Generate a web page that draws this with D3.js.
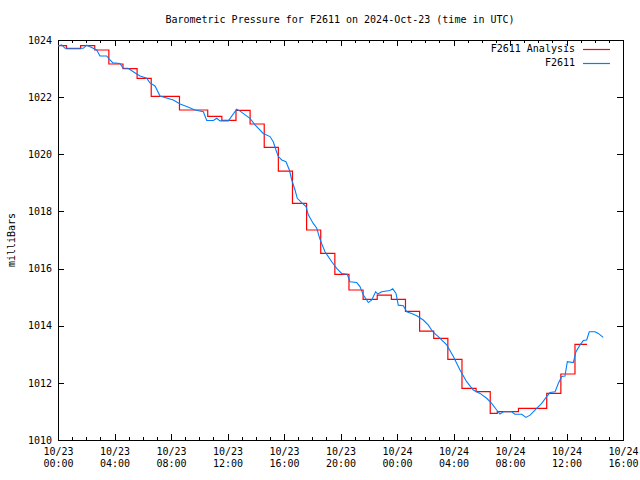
<!DOCTYPE html>
<html>
<head>
<meta charset="utf-8">
<script src="https://cdn.jsdelivr.net/npm/d3@7"></script>
<style>
  body { margin: 0; background: #fff; }
  svg text { font-family: "DejaVu Sans Mono", "Liberation Mono", monospace; font-size: 10px; fill: #000; }
</style>
</head>
<body>
<svg id="chart" width="640" height="480"></svg>
<script>
// hours after 2024-10-23 00:00 UTC
const analysisHours = [0, 0.6, 1.6, 2.6, 3.6, 4.6, 5.6, 6.6, 7.6, 8.6, 9.6, 10.6, 11.6, 12.6, 13.6, 14.6,
  15.6, 16.6, 17.6, 18.6, 19.6, 20.6, 21.6, 22.6, 23.6, 24.6, 25.6, 26.6, 27.6, 28.6, 29.6, 30.6,
  31.1, 32.6, 33.6, 34.6, 35.6, 36.6, 37.45];
const analysisValues = [1023.8, 1023.7, 1023.8, 1023.65, 1023.16, 1023.0, 1022.66, 1022.03, 1022.03,
  1021.55, 1021.55, 1021.33, 1021.19, 1021.54, 1021.06, 1020.24, 1019.41, 1018.28, 1017.35, 1016.53,
  1015.8, 1015.25, 1014.92, 1015.07, 1014.92, 1014.5, 1013.81, 1013.56, 1012.82, 1011.81, 1011.69,
  1010.93, 1010.99, 1011.11, 1011.11, 1011.63, 1012.31, 1013.35, 1013.35];

const stationHours = [0, 0.26, 0.5, 1.79, 2.03, 2.27, 2.74, 2.97, 3.45, 3.68, 3.89, 4.39, 4.6, 4.96,
  5.52, 5.81, 6.28, 6.51, 6.87, 7.22, 8.16, 8.64, 9.11, 9.7, 10.29, 10.53, 11.0, 11.24, 11.47, 12.06,
  12.65, 12.89, 13.59, 13.95, 14.53, 15.01, 15.24, 15.43, 15.6, 15.84, 16.14, 16.38, 16.55, 16.78,
  16.94, 17.25, 17.56, 17.72, 18.07, 18.32, 18.55, 18.9, 19.38, 19.73, 20.08, 20.48, 20.67, 21.15,
  21.38, 21.61, 21.97, 22.21, 22.49, 22.63, 22.92, 23.5, 23.7, 23.93, 24.09, 24.45, 24.69, 25.04,
  25.4, 25.86, 26.22, 26.53, 26.92, 27.52, 27.99, 28.46, 28.93, 29.4, 29.88, 30.35, 30.7, 31.06,
  31.29, 31.53, 32.12, 32.35, 32.83, 33.13, 33.42, 33.89, 34.24, 34.6, 34.83, 35.19, 35.42, 35.66,
  35.89, 36.06, 36.48, 36.67, 36.96, 37.19, 37.43, 37.61, 38.02, 38.25, 38.6];
const stationValues = [1023.79, 1023.83, 1023.71, 1023.71, 1023.82, 1023.76, 1023.65, 1023.44, 1023.44,
  1023.3, 1023.2, 1023.18, 1023.02, 1023.01, 1022.83, 1022.74, 1022.66, 1022.5, 1022.39, 1022.04,
  1021.9, 1021.76, 1021.67, 1021.55, 1021.49, 1021.18, 1021.18, 1021.26, 1021.17, 1021.17, 1021.58,
  1021.51, 1021.26, 1021.03, 1020.73, 1020.62, 1020.44, 1020.15, 1019.92, 1019.8, 1019.74, 1019.45,
  1019.1, 1018.75, 1018.46, 1018.31, 1018.17, 1017.88, 1017.58, 1017.41, 1017.02, 1016.59, 1016.24,
  1016.01, 1015.83, 1015.8, 1015.54, 1015.51, 1015.37, 1015.08, 1014.81, 1014.9, 1015.19, 1015.11,
  1015.19, 1015.23, 1015.29, 1015.13, 1014.72, 1014.7, 1014.49, 1014.43, 1014.35, 1014.2, 1014.02,
  1013.79, 1013.62, 1013.33, 1012.92, 1012.45, 1012.04, 1011.75, 1011.63, 1011.46, 1011.28, 1011.05,
  1010.91, 1010.99, 1010.99, 1010.9, 1010.9, 1010.79, 1010.87, 1011.11, 1011.28, 1011.52, 1011.66,
  1011.69, 1011.98, 1012.22, 1012.24, 1012.74, 1012.71, 1013.09, 1013.33, 1013.48, 1013.5, 1013.79,
  1013.79, 1013.73, 1013.59];

const yTicks = [1010, 1012, 1014, 1016, 1018, 1020, 1022, 1024];
const seriesNames = ["F2611 Analysis", "F2611"];
const seriesColors = ["#ff0000", "#0080ff"];

const start = Date.UTC(2024, 9, 23, 0, 0);
const toDate = h => new Date(start + h * 3600e3);

const margin = {top: 40, right: 17, bottom: 40, left: 58};
const width = 640, height = 480;
const svg = d3.select("#chart");

const x = d3.scaleUtc()
  .domain([toDate(0), toDate(40)])
  .range([margin.left, width - margin.right]);
const y = d3.scaleLinear()
  .domain([1010, 1024])
  .range([height - margin.bottom, margin.top]);

const majorTicks = d3.utcHour.every(4).range(toDate(0), toDate(40.01));
const minorTicks = d3.utcHour.every(1).range(toDate(0), toDate(40.01));

const axes = svg.append("g").attr("shape-rendering", "crispEdges");

// bottom and top (mirror) ticks
axes.append("g")
  .attr("transform", `translate(0,${height - margin.bottom})`)
  .call(d3.axisBottom(x).tickValues(minorTicks).tickSize(-3).tickFormat(""))
  .call(g => g.select(".domain").remove());
axes.append("g")
  .attr("transform", `translate(0,${margin.top})`)
  .call(d3.axisTop(x).tickValues(minorTicks).tickSize(-3).tickFormat(""))
  .call(g => g.select(".domain").remove());
const xb = axes.append("g")
  .attr("transform", `translate(0,${height - margin.bottom})`)
  .call(d3.axisBottom(x).tickValues(majorTicks).tickSize(-6).tickFormat(""))
  .call(g => g.select(".domain").remove());
axes.append("g")
  .attr("transform", `translate(0,${margin.top})`)
  .call(d3.axisTop(x).tickValues(majorTicks).tickSize(-6).tickFormat(""))
  .call(g => g.select(".domain").remove());

xb.selectAll(".tick").each(function(d) {
  const t = d3.select(this).append("text").attr("text-anchor", "middle").attr("y", 15);
  t.append("tspan").attr("x", 0).text(d3.utcFormat("%m/%d")(d));
  t.append("tspan").attr("x", 0).attr("dy", 12).text(d3.utcFormat("%H:%M")(d));
});

const yl = axes.append("g")
  .attr("transform", `translate(${margin.left},0)`)
  .call(d3.axisLeft(y).tickValues(yTicks).tickSize(-6).tickPadding(6).tickFormat(d3.format("d")))
  .call(g => g.select(".domain").remove());
yl.selectAll("text").attr("font-size", null).attr("font-family", null).attr("dy", "0.32em");
axes.append("g")
  .attr("transform", `translate(${width - margin.right},0)`)
  .call(d3.axisRight(y).tickValues(yTicks).tickSize(-6).tickFormat(""))
  .call(g => g.select(".domain").remove());

axes.selectAll(".tick line").attr("stroke", "#000");

axes.append("rect")
  .attr("x", margin.left + 0.5)
  .attr("y", margin.top + 0.5)
  .attr("width", width - margin.left - margin.right)
  .attr("height", height - margin.top - margin.bottom)
  .attr("fill", "none")
  .attr("stroke", "#000");

// data lines
const analysis = analysisHours.map((h, i) => [toDate(h), analysisValues[i]]);
const station = stationHours.map((h, i) => [toDate(h), stationValues[i]]);

const stepLine = d3.line().x(d => x(d[0])).y(d => y(d[1])).curve(d3.curveStepAfter);
const plainLine = d3.line().x(d => x(d[0])).y(d => y(d[1]));

svg.append("path").datum(analysis)
  .attr("d", stepLine)
  .attr("fill", "none").attr("stroke", seriesColors[0]).attr("stroke-width", 1.2);
svg.append("path").datum(station)
  .attr("d", plainLine)
  .attr("fill", "none").attr("stroke", seriesColors[1]).attr("stroke-width", 1.1);

// legend
const legend = svg.append("g");
seriesNames.forEach((name, i) => {
  const ly = 49 + i * 14;
  legend.append("text").attr("x", 575).attr("y", ly).attr("dy", "0.32em")
    .attr("text-anchor", "end").text(name);
  legend.append("line").attr("x1", 583).attr("x2", 610).attr("y1", ly + 0.5).attr("y2", ly + 0.5)
    .attr("stroke", seriesColors[i]).attr("stroke-width", 1.2);
});

// title and y label
svg.append("text").attr("x", 340).attr("y", 20).attr("dy", "0.32em")
  .attr("text-anchor", "middle")
  .text("Barometric Pressure for F2611 on 2024-Oct-23 (time in UTC)");
svg.append("text")
  .attr("transform", "translate(12,240) rotate(-90)")
  .attr("dy", "0.32em")
  .attr("text-anchor", "middle")
  .text("milliBars");
</script>
</body>
</html>
